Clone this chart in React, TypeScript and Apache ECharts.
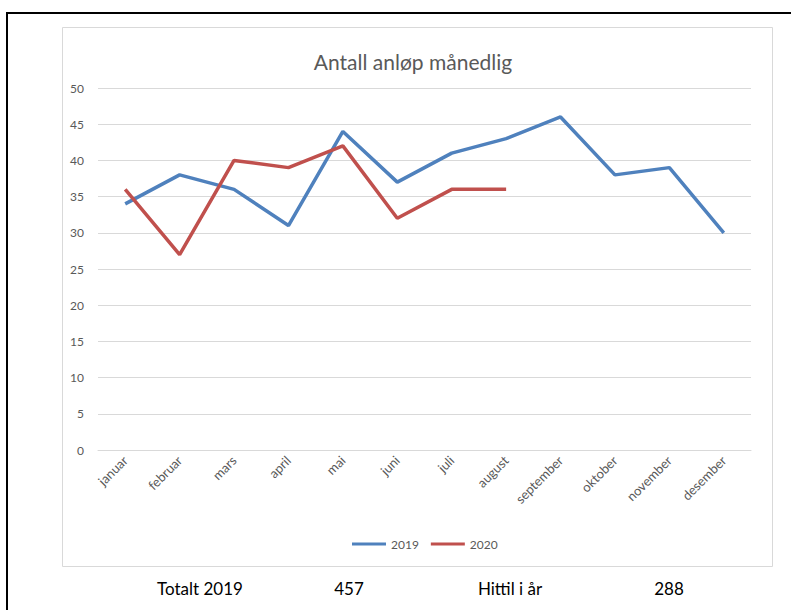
import React, { useEffect, useRef } from "react";
import * as echarts from "echarts";

const months = ["januar", "februar", "mars", "april", "mai", "juni", "juli", "august", "september", "oktober", "november", "desember"];
const values2019 = [34, 38, 36, 31, 44, 37, 41, 43, 46, 38, 39, 30];
const values2020 = [36, 27, 40, 39, 42, 32, 36, 36];
const yTicks = { min: 0, max: 50, interval: 5 };
const summaryLabels = ["Totalt 2019", "457", "Hittil i år", "288"];

const FONT = "Lato, 'Open Sans', sans-serif";

export default function App() {
  const ref = useRef<HTMLDivElement>(null);
  useEffect(() => {
    document.body.style.margin = "0";
    const chart = echarts.init(ref.current!, null, { renderer: "svg" });
    const summaryX = [200, 349, 510, 669];
    chart.setOption({
      animation: false,
      backgroundColor: "#ffffff",
      title: {
        text: "Antall anløp månedlig",
        left: 408,
        textAlign: "center",
        top: 46,
        textStyle: { fontFamily: FONT, fontSize: 21, fontWeight: "normal", color: "#595959" },
      },
      grid: { left: 98, right: 40, top: 88, bottom: 160, containLabel: false },
      legend: {
        left: 347,
        top: 533,
        icon: "rect",
        itemWidth: 34,
        itemHeight: 3,
        itemGap: 12,
        textStyle: { fontFamily: FONT, fontSize: 12, color: "#595959" },
        data: ["2019", "2020"],
      },
      xAxis: {
        type: "category",
        data: months,
        boundaryGap: true,
        axisLine: { show: true, lineStyle: { color: "#D9D9D9", width: 1 } },
        axisTick: { show: false },
        axisLabel: { rotate: 45, fontFamily: FONT, fontSize: 13, color: "#595959", margin: 8, interval: 0 },
      },
      yAxis: {
        type: "value",
        min: yTicks.min,
        max: yTicks.max,
        interval: yTicks.interval,
        axisLine: { show: false },
        axisTick: { show: false },
        splitLine: { lineStyle: { color: "#D9D9D9", width: 1 } },
        axisLabel: { fontFamily: FONT, fontSize: 12, color: "#595959", margin: 14 },
      },
      series: [
        {
          name: "2019",
          type: "line",
          data: values2019,
          symbol: "none",
          color: "#4F81BD",
          lineStyle: { color: "#4F81BD", width: 3.5 },
        },
        {
          name: "2020",
          type: "line",
          data: values2020,
          symbol: "none",
          color: "#C0504D",
          lineStyle: { color: "#C0504D", width: 3.5 },
        },
      ],
      graphic: [
        {
          type: "rect",
          shape: { x: 62.5, y: 27.5, width: 710, height: 539 },
          style: { fill: "none", stroke: "#D9D9D9", lineWidth: 1 },
          silent: true,
          z: -1,
        },
        {
          type: "line",
          shape: { x1: 7, y1: 13, x2: 791, y2: 13 },
          style: { stroke: "#000000", lineWidth: 2 },
        },
        {
          type: "line",
          shape: { x1: 7, y1: 12, x2: 7, y2: 610 },
          style: { stroke: "#000000", lineWidth: 2 },
        },
        ...summaryLabels.map((t, i) => ({
          type: "text",
          x: summaryX[i],
          y: 588,
          style: {
            text: t,
            fontFamily: FONT,
            fontSize: 17,
            fill: "#000000",
            textAlign: "center",
            textVerticalAlign: "middle",
          },
        })),
      ],
    });
    return () => chart.dispose();
  }, []);
  return <div ref={ref} style={{ width: 791, height: 610, position: "absolute", left: 0, top: 0 }} />;
}
